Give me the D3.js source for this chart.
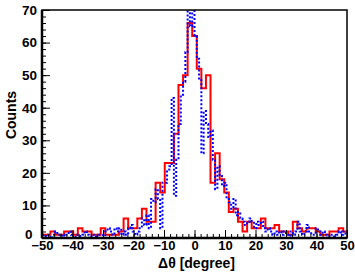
<!DOCTYPE html>
<html lang="en">
<head>
<meta charset="UTF-8">
<title>Delta theta histogram</title>
<script src="https://d3js.org/d3.v7.min.js"></script>
<style>
  body { margin: 0; padding: 0; background: #fff; }
  svg { display: block; }
  .axis text { font-family: "Liberation Sans", Arial, sans-serif; font-weight: bold; font-size: 13.5px; fill: #000; }
  .axis.x text { font-size: 13px; }
  .axis line { stroke: #000; stroke-width: 1; }
  .axis path { display: none; }
  .title { font-family: "Liberation Sans", Arial, sans-serif; font-weight: bold; font-size: 14px; fill: #000; }
</style>
</head>
<body>
<div id="chart"></div>
<script>
// red histogram: bins 1.5 deg wide, centres -49.5 ... 49.5
const redWidth = 1.5;
const redCentres = d3.range(-33, 34).map(j => j * 1.5);
const redCounts = [
  1, 1, 2, 1, 1, 2, 2, 1, 3, 2, 2, 1, 1, 3, 1, 1, 1, 2, 6, 3, 3, 6, 9, 5, 5, 17, 14, 23, 23, 32, 47, 50, 66,
  62,
  52, 46, 50, 17, 26, 18, 14, 8, 9, 5, 2, 5, 3, 3, 6, 3, 3, 4, 2, 2, 1, 5, 3, 2, 3, 3, 2, 1, 1, 2, 2, 3, 2
];

// blue histogram: bins 0.75 deg wide, lower edges -50.25 ... 49.5
const blueWidth = 0.75;
const blueEdges = d3.range(0, 134).map(i => -50.25 + i * 0.75);
const blueCounts = [
  0, 1, 0, 1, 0, 1, 2, 1, 0, 1, 0, 1, 2, 1, 0, 1, 1, 0, 1, 2, 1, 0, 1, 1, 0, 1, 1, 0,
  2, 3, 2, 1, 3, 2, 3, 1, 2, 1, 3, 4, 2, 1, 2, 3, 6, 4, 7, 3, 12, 11, 15, 12, 3, 17, 17, 21,
  22, 43, 13, 24, 35, 44, 48, 57, 72, 65, 72, 62, 55, 49, 26, 39,
  35, 31, 33, 24, 15, 22, 19, 16, 17, 12, 11, 9, 12, 7, 8, 6, 5, 4, 5, 6, 5, 3, 5, 4, 5, 3,
  2, 3, 2, 1, 2, 1, 2, 1, 2, 1, 0, 2, 1, 2, 5, 2, 1, 2, 4, 2, 1, 1, 3, 2, 1, 2, 1, 0, 1, 1,
  0, 1, 2, 1, 2, 1
];

const xTicks = d3.range(-50, 51, 10);
const yTicks = d3.range(0, 71, 10);

const W = 355, H = 273;
const margin = {top: 10, right: 8, bottom: 35, left: 42};
const width = W - margin.left - margin.right;
const height = H - margin.top - margin.bottom;

const svg = d3.select("#chart").append("svg")
  .attr("width", W).attr("height", H);

const g = svg.append("g")
  .attr("transform", `translate(${margin.left},${margin.top})`);

const x = d3.scaleLinear().domain([-50, 50]).range([0, width]);
const y = d3.scaleLinear().domain([0, 70]).range([height, 0]);

svg.append("defs").append("clipPath").attr("id", "frame")
  .append("rect").attr("width", width).attr("height", height);

// outline points of a step histogram
function stepPoints(lows, w, counts) {
  const pts = [[lows[0], 0]];
  counts.forEach((c, i) => {
    pts.push([lows[i], c]);
    pts.push([lows[i] + w, c]);
  });
  pts.push([lows[lows.length - 1] + w, 0]);
  return pts;
}

const line = d3.line().x(d => x(d[0])).y(d => y(d[1]));

const plot = g.append("g").attr("clip-path", "url(#frame)");

plot.append("path")
  .attr("d", line(stepPoints(redCentres.map(c => c - redWidth / 2), redWidth, redCounts)))
  .attr("fill", "none")
  .attr("stroke", "#ff0000")
  .attr("stroke-width", 2);

plot.append("path")
  .attr("d", line(stepPoints(blueEdges, blueWidth, blueCounts)))
  .attr("fill", "none")
  .attr("stroke", "#0000ff")
  .attr("stroke-width", 2)
  .attr("stroke-dasharray", "2,2");

// minor ticks
g.append("g").attr("class", "axis")
  .attr("transform", `translate(0,${height})`)
  .call(d3.axisBottom(x).tickValues(d3.range(-50, 51, 2)).tickSize(-4).tickFormat(""));
g.append("g").attr("class", "axis")
  .call(d3.axisLeft(y).tickValues(d3.range(0, 71, 2)).tickSize(-4).tickFormat(""));

// major ticks + labels
g.append("g").attr("class", "axis x")
  .attr("transform", `translate(0,${height})`)
  .call(d3.axisBottom(x).tickValues(xTicks).tickSize(-8).tickPadding(3));
const yAxis = g.append("g").attr("class", "axis")
  .call(d3.axisLeft(y).tickValues(yTicks).tickSize(-8).tickPadding(5));
// nudge the "0" so it clears the "-50" below
yAxis.selectAll(".tick text").filter(d => d === 0)
  .attr("dy", "0em").attr("x", -9.5);

// frame
g.append("rect")
  .attr("width", width).attr("height", height)
  .attr("fill", "none").attr("stroke", "#000").attr("stroke-width", 1.5);
g.append("line").attr("x1", 0).attr("x2", 0).attr("y1", 0).attr("y2", height)
  .attr("stroke", "#000").attr("stroke-width", 2.5);
g.append("line").attr("x1", 0).attr("x2", width).attr("y1", height).attr("y2", height)
  .attr("stroke", "#000").attr("stroke-width", 2.5);

// titles
svg.append("text").attr("class", "title")
  .attr("x", margin.left + x(0) + 2).attr("y", 268)
  .attr("text-anchor", "middle")
  .text("Δθ [degree]");

svg.append("text").attr("class", "title")
  .attr("transform", `translate(16,115) rotate(-90)`)
  .attr("text-anchor", "middle")
  .text("Counts");
</script>
</body>
</html>
